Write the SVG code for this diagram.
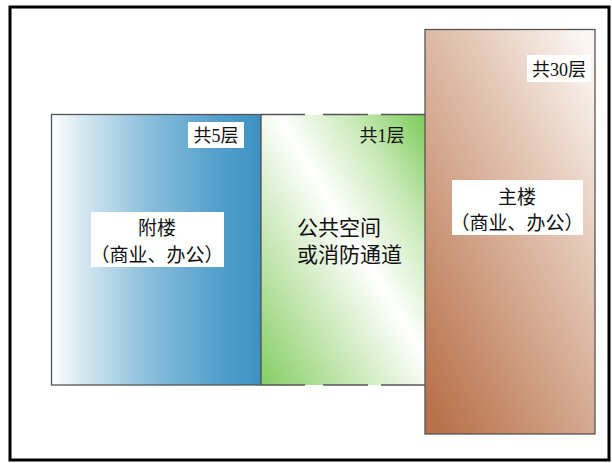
<svg xmlns="http://www.w3.org/2000/svg" width="612" height="463" viewBox="0 0 612 463">
<defs>
<linearGradient id="gBlue" x1="0" y1="0" x2="1" y2="0">
<stop offset="0" stop-color="#ffffff"/>
<stop offset="0.12" stop-color="#dcebf4"/>
<stop offset="0.45" stop-color="#8cc0dd"/>
<stop offset="0.8" stop-color="#529fcc"/>
<stop offset="1" stop-color="#3d92c3"/>
</linearGradient>
<linearGradient id="gGreen" gradientUnits="userSpaceOnUse" x1="223" y1="323" x2="463" y2="177">
<stop offset="0" stop-color="#84ce64"/>
<stop offset="0.25" stop-color="#bfe4aa"/>
<stop offset="0.55" stop-color="#ffffff"/>
<stop offset="0.78" stop-color="#c8e9b6"/>
<stop offset="1" stop-color="#7ccb5a"/>
</linearGradient>
<linearGradient id="gBrown" x1="0.9" y1="0" x2="0.1" y2="1">
<stop offset="0" stop-color="#fbf6f2"/>
<stop offset="0.3" stop-color="#e6cbbb"/>
<stop offset="1" stop-color="#b8714a"/>
</linearGradient>
<style>
.t{font-family:"Liberation Serif","Noto Sans CJK SC",serif;fill:#111}
.box{fill:#ffffff}
.edge{stroke:#555;stroke-width:1.3;fill:none}
</style>
</defs>
<rect x="0" y="0" width="612" height="463" fill="#ffffff"/>
<rect x="10" y="7" width="599" height="453" fill="none" stroke="#000" stroke-width="3"/>
<g id="annex">
<rect x="51.5" y="114.5" width="209.5" height="270.5" fill="url(#gBlue)" stroke="#555" stroke-width="1.3"/>
<rect class="box" x="188" y="122" width="56" height="26"/>
<text class="t" x="216" y="142" font-size="18" text-anchor="middle">共5层</text>
<rect class="box" x="91" y="212" width="133" height="55"/>
<text class="t" x="157" y="235" font-size="19" text-anchor="middle">附楼</text>
<text class="t" x="157" y="262" font-size="19" text-anchor="middle">（商业、办公）</text>
</g>
<g id="public">
<rect x="261" y="114.5" width="164" height="270.5" fill="url(#gGreen)"/>
<line x1="261" y1="114.5" x2="261" y2="385" class="edge"/>
<path class="edge" d="M261 114.5H305M323 114.5H368M381 114.5H425M261 385H305M323 385H368M381 385H425"/>
<text class="t" x="382" y="142" font-size="18" text-anchor="middle">共1层</text>
<text class="t" x="297" y="235" font-size="21">公共空间</text>
<text class="t" x="297" y="262" font-size="21">或消防通道</text>
</g>
<g id="main">
<rect x="425" y="29.5" width="170" height="404.5" fill="url(#gBrown)" stroke="#555" stroke-width="1.3"/>
<rect class="box" x="527" y="55" width="64" height="27"/>
<text class="t" x="559" y="76" font-size="18" text-anchor="middle">共30层</text>
<rect class="box" x="452" y="180" width="131" height="55"/>
<text class="t" x="517" y="204" font-size="19" text-anchor="middle">主楼</text>
<text class="t" x="517" y="230" font-size="19" text-anchor="middle">（商业、办公）</text>
</g>
<g id="connectors"/>
</svg>
